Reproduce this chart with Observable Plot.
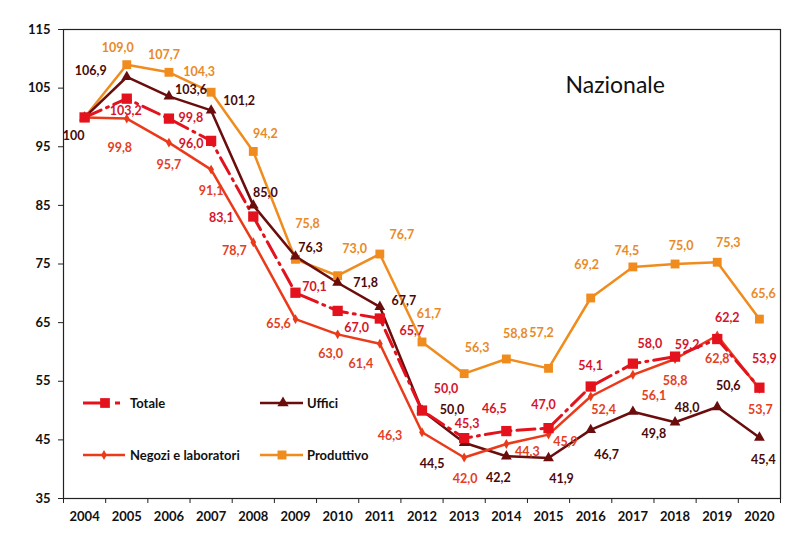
<!DOCTYPE html>
<html><head><meta charset="utf-8">
<script src="https://cdn.jsdelivr.net/npm/d3@7"></script>
<script src="https://cdn.jsdelivr.net/npm/@observablehq/plot@0.6"></script>
<style>body{margin:0;background:#fff}</style>
</head><body><div id="chart"></div>
<script>
// ---- data ----
const years = [2004,2005,2006,2007,2008,2009,2010,2011,2012,2013,2014,2015,2016,2017,2018,2019,2020];
const totale     = [100,103.2,99.8,96.0,83.1,70.1,67.0,65.7,50.0,45.3,46.5,47.0,54.1,58.0,59.2,62.2,53.9];
const uffici     = [100,106.9,103.6,101.2,85.0,76.3,71.8,67.7,50.0,44.5,42.2,41.9,46.7,49.8,48.0,50.6,45.4];
const negozi     = [100,99.8,95.7,91.1,78.7,65.6,63.0,61.4,46.3,42.0,44.3,45.9,52.4,56.1,58.8,62.8,53.7];
const produttivo = [100,109.0,107.7,104.3,94.2,75.8,73.0,76.7,61.7,56.3,58.8,57.2,69.2,74.5,75.0,75.3,65.6];
const yTicks = [35,45,55,65,75,85,95,105,115];
const seriesNames = ["Totale","Uffici","Negozi e laboratori","Produttivo"];
const chartTitle = "Nazionale";

// ---- label nudges (layout only, pixels) ----
const totOff  = [null,[-1,12],[22,-1],[-20,3],[-32,1],[19,-6],[19,17],[32,12],[24,-22],[3,-14],[-12,-22],[-5,-23],[0,-21],[17,-20],[12,-12],[10,-21],[5,-29]];
const uffOff  = [[-11,19],[-36,-6],[22,-6],[28,-9],[12,-12],[15,-8],[28,0],[24,-6],[30,-1],[-32,21],[-8,22],[13,21],[16,25],[21,22],[12,-14],[11,-21],[4,22]];
const negOff  = [null,[-7,29],[0,22],[0,21],[-19,9],[-17,5],[-7,20],[-19,20],[-32,4],[1,22],[21,8],[17,7],[13,14],[21,21],[0,22],[0,23],[1,21]];
const prodOff = [null,[-9,-17],[-5,-17],[-12,-20],[12,-17],[12,-35],[17,-27],[22,-19],[7,-28],[13,-26],[9,-25],[-7,-35],[-4,-33],[-6,-16],[6,-18],[11,-19],[4,-25]];

// ---- styles ----
const C = {
  tot:  {line:"#e3121d", label:"#d5142b"},
  uff:  {line:"#6b0d0d", label:"#4a0909"},
  neg:  {line:"#ea3a1a", label:"#e3401f"},
  prod: {line:"#f08c1e", label:"#e88a28"}
};
const FONT = "Lato, 'Open Sans', sans-serif";
const TOT_DASH = "18,6,2,6";

const rows = years.map((y,i)=>({year:y, totale:totale[i], uffici:uffici[i], negozi:negozi[i], produttivo:produttivo[i]}));
const fmt = (v,i) => (i===0 ? String(v) : v.toFixed(1).replace(".", ","));
const bounds = years.map(y=>y-0.5).concat([years[years.length-1]+0.5]);

function labels(values, offs, color) {
  const out = [];
  values.forEach((v,i)=>{
    if (!offs[i]) return;
    out.push(Plot.text([i], {x: j=>years[j], y: j=>values[j], text: j=>fmt(values[j], j),
      dx: offs[i][0], dy: offs[i][1], fill: color, fontSize: 12.5, fontWeight: 700}));
  });
  return out;
}

const hasAxis = typeof Plot.axisX === "function";
const axisMarks = hasAxis ? [
  Plot.axisY({ticks: yTicks, tickSize: 5, tickPadding: 8, label: null, fontSize: 13, fontWeight: 700, fill:"#111", stroke:"#222"}),
  Plot.axisX({ticks: years, tickSize: 0, tickPadding: 13, tickFormat: d=>String(d), label: null, fontSize: 13, fontWeight: 700, fill:"#111"}),
  Plot.axisX({ticks: bounds, tickSize: 5, tickFormat: ()=>"", label: null, stroke:"#222"})
] : [
  Plot.ruleX(bounds, {y1: 35, y2: 34.2, stroke:"#222"})
];

const chart = Plot.plot({
  width: 800, height: 545,
  marginLeft: 63, marginRight: 20, marginTop: 29, marginBottom: 47,
  style: {fontFamily: FONT, fontSize: "13px", background: "#fff", color:"#111"},
  x: {type: "linear", domain: [2003.5, 2020.5], ticks: years, tickFormat: d=>String(d), tickSize: 0, tickPadding: 13, label: null},
  y: {domain: [35, 115], ticks: yTicks, tickSize: 5, tickPadding: 8, label: null},
  marks: [
    ...axisMarks,
    Plot.frame({stroke: "#222", strokeWidth: 1.2}),
    Plot.text([chartTitle], {frameAnchor: "top-left", textAnchor: "start", lineAnchor: "middle", dx: 502, dy: 56, fontSize: 23, fill: "#111", fontWeight: 400}),
    // lines
    Plot.line(rows, {x:"year", y:"produttivo", stroke: C.prod.line, strokeWidth: 2.5}),
    Plot.line(rows, {x:"year", y:"uffici", stroke: C.uff.line, strokeWidth: 2.5}),
    Plot.line(rows, {x:"year", y:"negozi", stroke: C.neg.line, strokeWidth: 2.5}),
    Plot.line(rows, {x:"year", y:"totale", stroke: C.tot.line, strokeWidth: 3, strokeDasharray: TOT_DASH}),
    // markers
    Plot.dot(rows, {x:"year", y:"produttivo", symbol:"square", r: 5, fill: C.prod.line}),
    Plot.dot(rows, {x:"year", y:"uffici", symbol:"triangle", r: 4, fill: C.uff.line}),
    Plot.dot(rows, {x:"year", y:"negozi", symbol:"diamond", r: 3, fill: C.neg.line}),
    Plot.dot(rows, {x:"year", y:"totale", symbol:"square", r: 5.8, fill: C.tot.line}),
    // labels
    ...labels(produttivo, prodOff, C.prod.label),
    ...labels(negozi, negOff, C.neg.label),
    ...labels(uffici, uffOff, C.uff.label),
    ...labels(totale, totOff, C.tot.label)
  ]
});
document.getElementById("chart").appendChild(chart);

// ---- legend inside plot area ----
const svg = d3.select(chart);
const lg = svg.append("g").attr("font-family", FONT).attr("font-size", 13).attr("font-weight", 700)
  .attr("fill", "#111").attr("text-anchor", "start");
const legendItems = [
  {name: seriesNames[0], color: C.tot.line, x1: 83, x2: 105, sym: d3.symbolSquare, size: 95, sx: 105, y: 403, w: 3, extra: [115, 120]},
  {name: seriesNames[1], color: C.uff.line, x1: 260, x2: 303, sym: d3.symbolTriangle, size: 55, sx: 283, y: 403, w: 2.5},
  {name: seriesNames[2], color: C.neg.line, x1: 83, x2: 125, sym: d3.symbolDiamond, size: 28, sx: 104, y: 455, w: 2.5},
  {name: seriesNames[3], color: C.prod.line, x1: 260, x2: 303, sym: d3.symbolSquare, size: 80, sx: 282, y: 455, w: 2.5}
];
legendItems.forEach(it=>{
  lg.append("line").attr("x1", it.x1).attr("x2", it.x2).attr("y1", it.y).attr("y2", it.y)
    .attr("stroke", it.color).attr("stroke-width", it.w);
  if (it.extra) lg.append("line").attr("x1", it.extra[0]).attr("x2", it.extra[1]).attr("y1", it.y).attr("y2", it.y)
    .attr("stroke", it.color).attr("stroke-width", it.w);
  lg.append("path").attr("d", d3.symbol(it.sym, it.size)()).attr("transform", `translate(${it.sx},${it.y})`).attr("fill", it.color);
  const tx = it.x1 < 200 ? 130 : 307;
  lg.append("text").attr("x", tx).attr("y", it.y).attr("dy", "0.35em").text(it.name);
});
</script>
</body></html>
